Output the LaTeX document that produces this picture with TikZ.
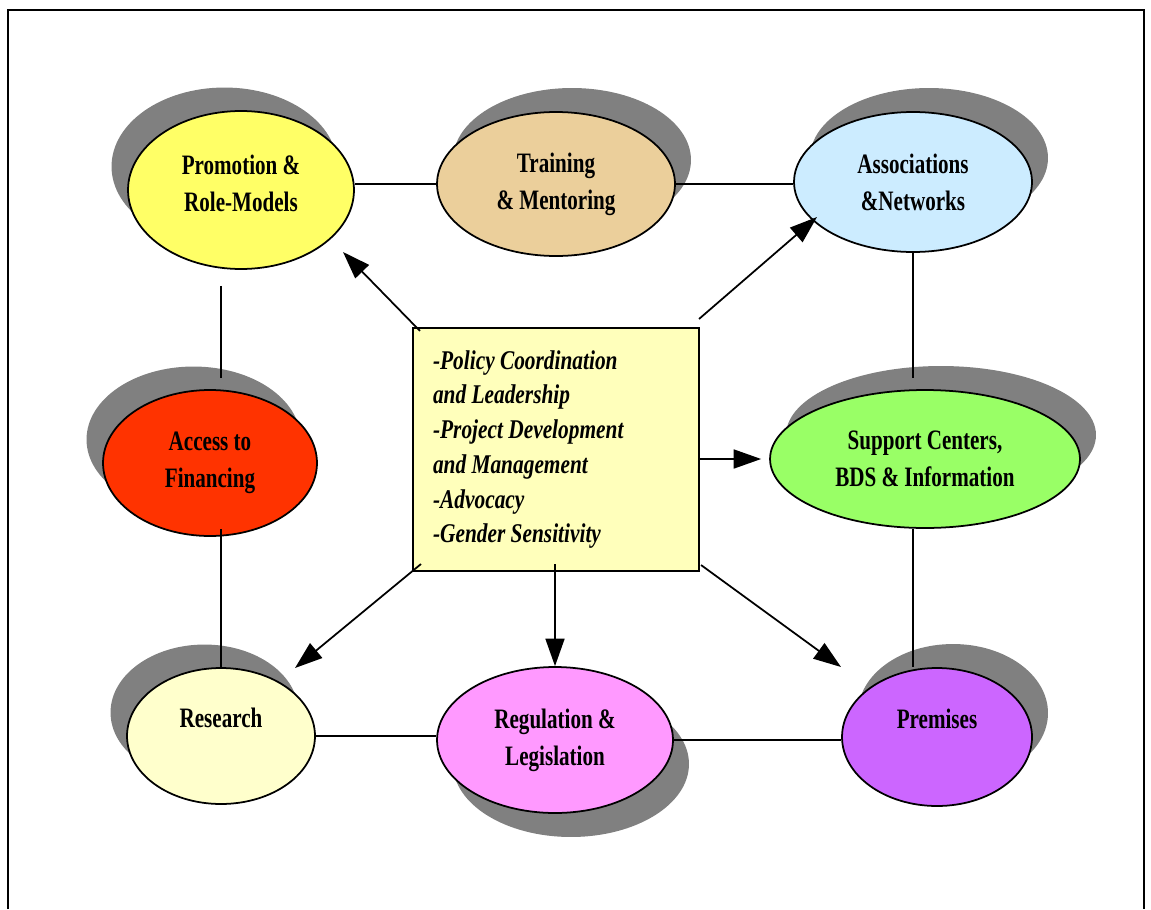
\documentclass[tikz,border=0pt]{standalone}
\usepackage{fontspec}
\newfontfamily\ovalfont[FakeStretch=0.75]{Liberation Serif}
\newfontfamily\hubfont[FakeStretch=0.79]{Liberation Serif}
\newcommand\tightspaces{\spaceskip=3pt plus 1pt\relax}
\usetikzlibrary{shapes.geometric,shadows,arrows.meta}
\definecolor{promofill}{RGB}{255,255,102}
\definecolor{trainfill}{RGB}{235,207,155}
\definecolor{assocfill}{RGB}{204,236,255}
\definecolor{accessfill}{RGB}{255,51,0}
\definecolor{supportfill}{RGB}{153,255,102}
\definecolor{researchfill}{RGB}{255,255,204}
\definecolor{regulfill}{RGB}{255,153,255}
\definecolor{premfill}{RGB}{204,102,255}
\definecolor{hubfill}{RGB}{255,255,187}
\tikzset{
	oval/.style={ellipse, draw, line width=1pt, inner sep=0pt, align=center, font=\ovalfont\bfseries\fontsize{16}{21}\selectfont},
	shadowUL/.style={drop shadow={shadow xshift=-0.33cm, shadow yshift=0.47cm, fill=black!50, opacity=1}},
	shadowUR/.style={drop shadow={shadow xshift=0.32cm, shadow yshift=0.48cm, fill=black!50, opacity=1}},
	shadowDR/.style={drop shadow={shadow xshift=0.32cm, shadow yshift=-0.48cm, fill=black!50, opacity=1}},
	link/.style={line width=0.9pt},
	flow/.style={line width=1pt, -{Triangle[length=0.55cm,width=0.38cm]}}
}

\begin{document}
\begin{tikzpicture}[x=0.02cm, y=-0.02cm]
			%%%%% START %%%%%
			\useasboundingbox (0, 0) rectangle (1151, 909);
			\draw[line width=1pt] (8, 909) -- (8, 10) -- (1144, 10) -- (1144, 909);
			
			%%%%% OVALS %%%%%
			\node[oval, shadowUL, fill=promofill, minimum width=4.52cm, minimum height=3.16cm] (promo) at (241, 190) {Promotion \&\\Role-Models\\[-13pt]\mbox{}};
			\node[oval, shadowUR, fill=trainfill, minimum width=4.76cm, minimum height=2.88cm] (train) at (556, 184) {Training\\\& Mentoring};
			\node[oval, shadowUR, fill=assocfill, minimum width=4.76cm, minimum height=2.80cm] (assoc) at (913, 182) {Associations\\\&Networks};
			\node[oval, shadowUL, fill=accessfill, minimum width=4.28cm, minimum height=2.92cm] (access) at (210, 463) {Access to\\Financing};
			\node[oval, shadowUR, fill=supportfill, minimum width=6.20cm, minimum height=2.76cm] (support) at (925, 459) {Support Centers,\\BDS \& Information};
			\node[oval, shadowUL, fill=researchfill, minimum width=3.76cm, minimum height=2.72cm] (research) at (221, 736) {Research\\\mbox{}};
			\node[oval, shadowDR, fill=regulfill, minimum width=4.72cm, minimum height=2.92cm] (regul) at (555, 740) {Regulation \&\\Legislation};
			\node[oval, shadowUR, fill=premfill, minimum width=3.80cm, minimum height=2.76cm] (prem) at (937, 737) {Premises\\\mbox{}};
			
			%%%%% HUB %%%%%
			\node[draw, line width=1.2pt, fill=hubfill, minimum width=5.72cm, minimum height=4.86cm, inner sep=0pt, text width=4.92cm, align=left, font=\hubfont\bfseries\itshape\fontsize{15.4}{19.8}\selectfont] (hub) at (556, 449.5) {\tightspaces -Policy Coordination\\and Leadership\\-Project Development\\and Management\\-Advocacy\\-Gender Sensitivity};
			
			%%%%% RING %%%%%
			\draw[link] (train.west) -- (train.west -| promo.east);
			\draw[link] (train.east) -- (train.east -| assoc.west);
			\draw[link] (assoc.south) -- ([yshift=0.22cm]assoc.south |- support.north);
			\draw[link] (support.south -| assoc.south) -- (prem.north -| assoc.south);
			\draw[link] (regul.east) -- (regul.east -| prem.west);
			\draw[link] (research.east) -- (research.east -| regul.west);
			\draw[link] ([yshift=0.16cm]access.south -| research.north) -- (research.north);
			\draw[link] ([yshift=-0.32cm]promo.south -| research.north) -- ([yshift=0.22cm]access.north -| research.north);
			
			%%%%% ARROWS %%%%%
			\draw[flow] ([shift={(8, 4)}]hub.north west) -- ([shift={(102, 62)}]promo.center);
			\draw[flow] ([shift={(-1, -8)}]hub.north east) -- ([shift={(-96, 35)}]assoc.center);
			\draw[flow] (hub.east |- support.west) -- ([xshift=-0.16cm]support.west);
			\draw[flow] ([shift={(9, -8)}]hub.south west) -- ([shift={(74, -68)}]research.center);
			\draw[flow] ([yshift=0.16cm]hub.south -| regul.north) -- (regul.north);
			\draw[flow] ([shift={(1, -7)}]hub.south east) -- ([shift={(-96, -70)}]prem.center);
			%%%%% END %%%%%
\end{tikzpicture}
\end{document}
